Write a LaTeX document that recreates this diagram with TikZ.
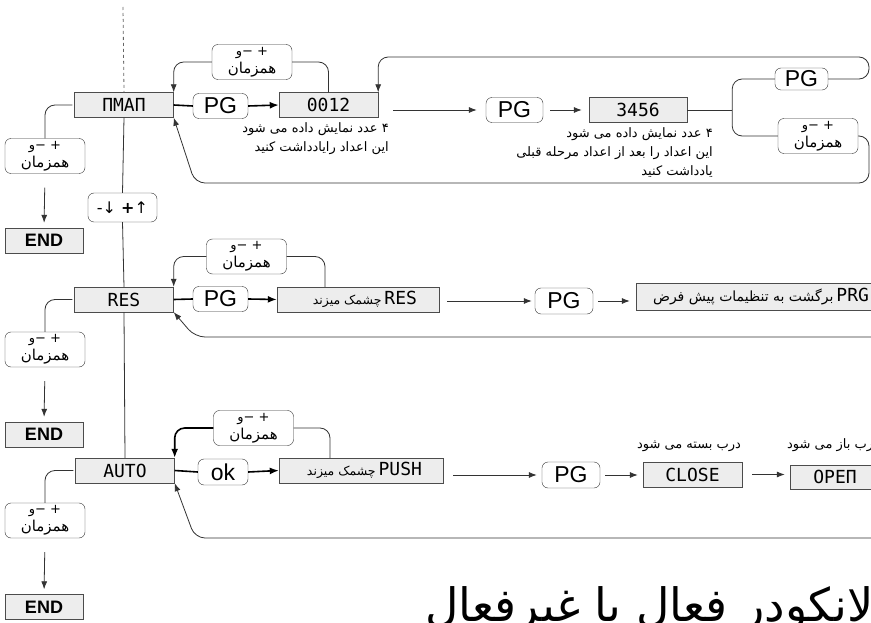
\documentclass[tikz,border=0pt]{standalone}
\usepackage{fontspec}
\usetikzlibrary{arrows.meta,calc}
\setmainfont{Liberation Sans}
\newfontfamily\lcdfont{DejaVu Sans Mono}
\newfontfamily\fafont[Script=Arabic]{DejaVu Sans}
\newfontfamily\symfont{DejaVu Sans}
\TeXXeTstate=1
\newcommand{\fatext}[1]{\beginR#1\endR}
\newcommand{\simtext}{{\fontsize{13}{13}\selectfont −و +}\\[3pt]\fatext{همزمان}}
\newcommand{\fasmall}{\fafont\fontsize{12.5}{12.5}\selectfont}
\tikzset{
 lcdbox/.style={draw=black!70,fill=black!7,inner sep=0pt,minimum height=25pt,font=\lcdfont\fontsize{18}{18}\selectfont},
 keybox/.style={draw=black!80,fill=white,rounded corners=6pt,inner sep=0pt,minimum height=25pt,font=\fontsize{23}{23}\selectfont},
 simbox/.style={draw=black!80,fill=white,rounded corners=6pt,inner sep=0pt,minimum width=80pt,minimum height=35pt,align=center,font=\fafont\fontsize{15}{15}\selectfont},
 endbox/.style={draw=black!70,fill=black!7,inner sep=0pt,minimum width=78pt,minimum height=25pt,font=\bfseries\fontsize{18}{18}\selectfont},
 note/.style={inner sep=0pt,align=right,font=\fafont\fontsize{13}{19}\selectfont},
 link/.style={draw=black!80,line width=.8pt},
 heavy/.style={draw=black,line width=1.6pt},
 arr/.style={link,-{Latex[length=8pt,width=6pt]}},
 heavyarr/.style={heavy,-{Latex[length=9pt,width=7pt]}}
}
\begin{document}
\begin{tikzpicture}[x=1pt,y=-1pt]
\path[use as bounding box,fill=white] (0,0) rectangle (871,623);
\node[anchor=base west,inner sep=0pt,font=\fafont\fontsize{46}{46}\selectfont] (heading) at (425,621) {\fatext{همراه لانکودر فعال یا غیرفعال}};
\node[lcdbox,minimum width=99pt] (nman) at (124,105) {ΠMAΠ};
\node[lcdbox,minimum width=99pt] (res) at (124,299.5) {RES};
\node[lcdbox,minimum width=99pt] (auto) at (125,470.5) {AUTO};
\node[keybox,minimum width=69pt,minimum height=29pt,font=\symfont\fontsize{16}{16}\selectfont] (updown) at (122.5,207.5) {-↓ \textbf{+}↑};
\draw[link,dashed,draw=black!60] (123,7) -- (nman.north);
\draw[link] (nman.south) -- (updown.north);
\draw[link] (updown.south) -- (res.north);
\draw[link] (res.south) -- (auto.north);
\foreach \r/\sy/\ey in {nman/156/240.5,res/349.5/434.5,auto/520.5/607}{
 \node[simbox] (\r-sim) at (45,\sy) {\simtext};
 \node[endbox] (\r-end) at (44,\ey) {END};
 \draw[link,rounded corners=10pt] ([xshift=-2pt]\r.west) -| (\r-sim.north);
 \draw[arr,shorten <=14pt,shorten >=5pt] (\r-sim.south) -- (\r-end.north);
}
\node[keybox,minimum width=55pt] (pg1) at (220.5,106) {PG};
\node[lcdbox,minimum width=99pt] (d12) at (328.5,105) {0012};
\node[keybox,minimum width=57pt] (pg2) at (514.5,110) {PG};
\node[lcdbox,minimum width=98pt] (d3456) at (638,110) {3456};
\node[keybox,minimum width=53pt,minimum height=22pt] (pg3) at (801.5,79) {PG};
\node[simbox] (s2) at (818,136) {\simtext};
\node[simbox] (nman-top) at (252,62) {\simtext};
\draw[heavy] (nman.east) -- (pg1.west);
\draw[heavyarr] (pg1.east) -- (d12.west);
\draw[link,rounded corners=10pt] (d12.north) |- (nman-top.east);
\draw[arr,rounded corners=10pt] (nman-top.west) -| (nman.north east);
\draw[arr,shorten <=15pt,shorten >=9pt] (d12.east |- pg2.west) -- (pg2.west);
\draw[arr,shorten <=7pt,shorten >=7pt] (pg2.east) -- (d3456.west);
\coordinate (fork) at ($(d3456.east)+(45,0)$);
\draw[link] (d3456.east) -- (fork);
\draw[link,rounded corners=10pt] (fork) |- (pg3.west);
\draw[link,rounded corners=10pt] (fork) |- (s2.west);
\draw[arr,rounded corners=10pt] (pg3.east) -- (869,79) -- (869,57) -| (d12.north east);
\draw[arr,rounded corners=10pt] (s2.east) -- (869,136) -- (869,183) -- (195,183) -- (nman.south east);
\node[note,anchor=north east] (d12-note) at (389,122) {\fatext{۴ عدد نمایش داده می شود}\\\fatext{این اعداد رایادداشت کنید}};
\node[note,anchor=north east] (d3456-note) at (713,127) {\fatext{۴ عدد نمایش داده می شود}\\\fatext{این اعداد را بعد از اعداد مرحله قبلی}\\\fatext{یادداشت کنید}};
\node[keybox,minimum width=55pt] (pg4) at (220.5,299) {PG};
\node[lcdbox,minimum width=162pt] (resb) at (358,299.5) {\makebox[118pt][r]{{\fasmall\fatext{چشمک میزند}}\hspace{3pt}RES}};
\node[keybox,minimum width=58pt,minimum height=26pt] (pg5) at (564,301) {PG};
\node[lcdbox,minimum width=240pt,minimum height=27pt] (prg) at (756,296.5) {\makebox[226pt][r]{{\fafont\fontsize{14}{14}\selectfont\fatext{برگشت به تنظیمات پیش فرض}}\hspace{3pt}PRG}};
\node[simbox] (res-top) at (246.5,256.5) {\simtext};
\coordinate (res-loop) at (880,337);
\draw[heavy] (res.east) -- (pg4.west);
\draw[heavyarr] (pg4.east) -- (resb.west);
\draw[link,rounded corners=10pt] ([xshift=-33pt]resb.north) |- (res-top.east);
\draw[arr,rounded corners=10pt] (res-top.west) -| (res.north east);
\draw[arr,rounded corners=10pt] (res-loop) -- (195,337) -- (res.south east);
\draw[arr,shorten <=8pt,shorten >=3pt] (resb.east |- pg5.west) -- (pg5.west);
\draw[arr,shorten <=5pt,shorten >=6pt] (pg5.east) -- (pg5.east -| prg.west);
\node[keybox,minimum width=50pt,minimum height=26pt] (ok) at (223,472) {ok};
\node[lcdbox,minimum width=164pt] (push) at (361,470.5) {\makebox[122pt][r]{{\fasmall\fatext{چشمک میزند}}\hspace{3pt}PUSH}};
\node[keybox,minimum width=58pt,minimum height=26pt] (pg6) at (571,475) {PG};
\node[lcdbox,minimum width=99pt] (close) at (692.5,474.5) {CLOSE};
\node[lcdbox,minimum width=90pt,minimum height=24pt] (open) at (835,477) {OPEΠ};
\node[font=\fafont\fontsize{13}{13}\selectfont,inner sep=0pt] (close-lbl) at (689,446) {\fatext{درب بسته می شود}};
\node[font=\fafont\fontsize{13}{13}\selectfont,inner sep=0pt,anchor=west] (open-lbl) at (787,445) {\fatext{درب باز می شود}};
\node[simbox] (auto-top) at (253.5,428) {\simtext};
\coordinate (auto-loop) at (880,538);
\draw[heavy] (auto.east) -- (ok.west);
\draw[heavyarr] (ok.east) -- (push.west);
\draw[link,rounded corners=10pt] ([xshift=-31pt]push.north) |- (auto-top.east);
\draw[heavyarr,rounded corners=10pt] (auto-top.west) -| (auto.north east);
\draw[arr,rounded corners=10pt] (auto-loop) -- (195,538) -- (auto.south east);
\draw[arr,shorten <=10pt,shorten >=5pt] (push.east |- pg6.west) -- (pg6.west);
\draw[arr,shorten <=5pt,shorten >=5pt] (pg6.east) -- (pg6.east -| close.west);
\draw[arr,shorten <=10pt,shorten >=5pt] (close.east) -- (close.east -| open.west);
\end{tikzpicture}
\end{document}
